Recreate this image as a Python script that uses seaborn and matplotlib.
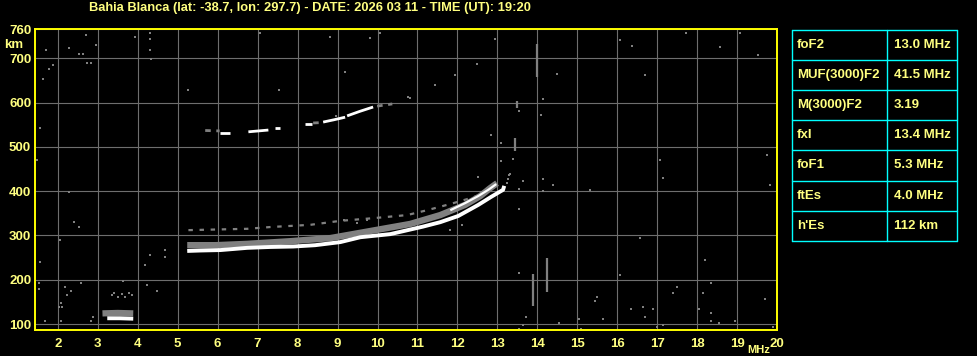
import matplotlib
matplotlib.use("Agg")
import matplotlib.pyplot as plt
import numpy as np
import pandas as pd
import seaborn as sns

# ---------------- data ----------------
title = "Bahia Blanca (lat: -38.7, lon: 297.7) - DATE: 2026 03 11 - TIME (UT): 19:20"
freq_ticks = list(range(2, 21))
height_ticks = [100, 200, 300, 400, 500, 600, 700, 765.5]
height_labels = ["100", "200", "300", "400", "500", "600", "700", "760"]

# F-layer main trace (white)
f_trace_f = [5.24, 5.57, 6.07, 6.74, 7.32, 7.89, 8.44, 9.07, 9.57, 10.32, 11.14, 11.57, 12.02, 12.52, 12.84, 13.14, 13.17]
f_trace_h = [265, 266, 267, 272, 274, 275, 278, 285, 296, 303, 320, 330, 344, 369, 387, 403, 412]
# second white branch near the cusp
x_trace_f = [11.82, 12.19, 12.52, 12.77, 12.97]
x_trace_h = [357, 373, 389, 403, 416]
# grey spread band above the main trace
band_f = [5.24, 5.95, 6.74, 7.82, 8.82, 9.82, 10.82, 11.57, 12.19, 12.57, 12.82, 12.99]
band_h = [278, 278, 281, 287, 294, 310, 326, 346, 369, 389, 407, 418]
# weak dashed grey echo above
weak_f = [5.27, 6.74, 7.32, 8.32, 9.07, 9.89, 10.74, 11.24, 11.82, 12.24, 12.74]
weak_h = [312, 315, 319, 324, 333, 339, 346, 357, 371, 382, 396]
# second-hop trace (white segments)
hop_seg = [1, 1, 2, 2, 3, 3, 4, 4, 5, 5, 5, 6, 6, 6]
hop_f = [6.07, 6.32, 6.77, 7.27, 7.44, 7.57, 8.19, 8.37, 8.64, 8.9, 9.19, 9.24, 9.55, 9.89]
hop_h = [531, 531, 534, 538, 543, 543, 552, 552, 556, 561, 567, 570, 580, 590]
hop_grey_seg = [1, 1, 2, 2, 3, 3]
hop_grey_f = [5.69, 6.05, 8.39, 8.64, 9.99, 10.37]
hop_grey_h = [537, 536, 554, 555, 592, 597]
# sporadic E trace
es_f = [3.24, 3.55, 3.89]
es_h = [113, 113, 112]
es_grey_f = [3.12, 3.5, 3.89]
es_grey_h = [124, 125, 124]
# vertical streaks
streak_f = [13.99, 13.89, 14.24, 13.49, 13.44]
streak_h0 = [658, 141, 172, 588, 491]
streak_h1 = [732, 213, 249, 604, 520]
# dotted column near the top at 4.3 MHz
col_f = [4.32, 4.32, 4.32, 4.34]
col_h = [757, 744, 719, 698]
# isolated grey returns
noise_f = [1.72, 2.29, 2.54, 2.64, 2.72, 2.97, 3.94, 1.79, 1.89, 1.64, 2.74, 2.84, 1.54, 1.54,
           1.69, 2.09, 2.04, 2.12, 2.09, 2.19, 2.34, 2.24, 2.59, 2.84, 2.89, 3.64, 4.24, 4.49,
           12.94, 12.49, 13.72, 13.64, 13.54, 14.54, 15.04, 15.09, 15.44, 15.49, 15.64, 16.34,
           16.64, 16.69, 16.89, 16.99, 17.14, 17.39, 17.49, 18.04, 18.14, 18.34, 18.34, 18.34,
           18.54, 18.94, 19.69, 19.89, 14.49, 14.14, 14.09, 13.54, 13.09, 13.09, 13.39, 13.29,
           13.27, 13.24, 13.64, 13.54, 14.14, 14.14, 14.39, 13.54, 13.54, 12.84, 9.17, 9.49,
           9.74, 11.82, 12.12, 12.52, 13.32, 16.07, 16.37, 17.72, 18.57, 19.07, 19.52, 16.69,
           17.07, 17.14, 19.82, 19.74, 16.57, 15.32, 16.07, 18.19, 1.57, 1.49, 2.29, 2.42,
           2.54, 2.07, 1.57, 4.32, 4.69, 4.69, 4.19, 5.27, 7.07, 7.54, 8.82, 9.19, 9.82, 10.82,
           11.44, 11.94, 10.07, 3.35, 3.42, 3.52, 3.6, 3.68, 3.78, 3.85, 10.77, 8.95]
noise_h = [719, 723, 710, 710, 753, 730, 748, 676, 685, 653, 689, 689, 193, 179,
           107, 107, 138, 138, 147, 184, 175, 165, 193, 107, 116, 197, 188, 175,
           744, 687, 116, 98, 89, 102, 111, 89, 152, 161, 111, 134,
           138, 116, 134, 93, 98, 170, 184, 134, 170, 193, 125, 107,
           102, 107, 156, 93, 665, 608, 572, 581, 509, 468, 473, 437,
           427, 418, 423, 405, 427, 400, 414, 360, 215, 527, 335, 328,
           335, 312, 324, 432, 439, 741, 728, 757, 726, 757, 707, 662,
           470, 430, 414, 482, 294, 403, 211, 245, 543, 470, 398, 330,
           319, 290, 240, 256, 267, 251, 233, 628, 757, 628, 748, 669, 746, 610,
           640, 662, 757, 165, 170, 160, 168, 162, 170, 165, 613, 570]

table_names = ["foF2", "MUF(3000)F2", "M(3000)F2", "fxI", "foF1", "ftEs", "h'Es"]
table_values = ["13.0 MHz", "41.5 MHz", "3.19", "13.4 MHz", "5.3 MHz", "4.0 MHz", "112 km"]

# ---------------- style ----------------
sns.set_theme(style="dark")
plt.rcParams["font.family"] = ["Liberation Sans", "DejaVu Sans"]
TXT = "#ffff80"
GRID = "#6e6e6e"
GREY = "#808080"

W, H = 978, 356
fig = plt.figure(figsize=(W / 100, H / 100), dpi=100, facecolor="black")
ax = fig.add_axes([35.3 / W, 1 - 330 / H, (777.3 - 35.3) / W, (330 - 29.3) / H])
ax.set_facecolor("black")

# ---------------- marks ----------------
sns.lineplot(x=band_f, y=band_h, sort=False, estimator=None, color=GREY, lw=4.6, ax=ax,
             solid_capstyle="butt")
sns.lineplot(x=weak_f, y=weak_h, sort=False, estimator=None, color=GREY, lw=1.6, ax=ax,
             linestyle=(0, (2, 3)))
sns.lineplot(x=f_trace_f, y=f_trace_h, sort=False, estimator=None, color="white", lw=2.8, ax=ax,
             solid_capstyle="butt")
sns.lineplot(x=x_trace_f, y=x_trace_h, sort=False, estimator=None, color="white", lw=1.6, ax=ax,
             solid_capstyle="butt")

hop = pd.DataFrame({"f": hop_f, "h": hop_h, "seg": hop_seg})
sns.lineplot(data=hop, x="f", y="h", units="seg", estimator=None, sort=False,
             color="white", lw=2.0, ax=ax, solid_capstyle="butt")
hopg = pd.DataFrame({"f": hop_grey_f, "h": hop_grey_h, "seg": hop_grey_seg})
sns.lineplot(data=hopg, x="f", y="h", units="seg", estimator=None, sort=False,
             color=GREY, lw=2.0, ax=ax, linestyle=(0, (2, 2)))

sns.lineplot(x=es_grey_f, y=es_grey_h, sort=False, estimator=None, color=GREY, lw=4.5, ax=ax,
             solid_capstyle="butt")
sns.lineplot(x=es_f, y=es_h, sort=False, estimator=None, color="white", lw=2.8, ax=ax,
             solid_capstyle="butt")

ax.vlines(streak_f, streak_h0, streak_h1, color=GREY, lw=1.6)
sns.scatterplot(x=col_f, y=col_h, marker="s", s=3.5, color=GREY, linewidth=0, ax=ax)
sns.scatterplot(x=noise_f, y=noise_h, marker="s", s=2.2, color=GREY, linewidth=0, ax=ax)

# ---------------- axes ----------------
ax.set_xlim(1.44, 20)
ax.set_ylim(86.5, 765.5)
ax.set_xticks(freq_ticks)
ax.set_xticklabels([str(v) for v in freq_ticks])
ax.set_yticks(height_ticks)
ax.set_yticklabels(height_labels)
ax.grid(True, color=GRID, lw=0.8)
ax.set_axisbelow(True)
ax.tick_params(axis="both", length=0, colors=TXT, labelsize=9.5)
ax.tick_params(axis="x", pad=6)
ax.tick_params(axis="y", pad=3)
for lab in ax.get_xticklabels() + ax.get_yticklabels():
    lab.set_fontweight("bold")
for sp in ax.spines.values():
    sp.set_color("#ffff00")
    sp.set_linewidth(1.4)
    sp.set_visible(True)
ax.set_xlabel("")
ax.set_ylabel("")

fig.text(310 / W, 1 - 8 / H, title, ha="center", va="center", color=TXT,
         fontsize=9.3, fontweight="bold")
fig.text(13.5 / W, 1 - 45 / H, "km", ha="center", va="center", color=TXT,
         fontsize=9.5, fontweight="bold")
fig.text(759 / W, 1 - 350 / H, "MHz", ha="center", va="center", color=TXT,
         fontsize=8.0, fontweight="bold")

# ---------------- parameter table ----------------
tx0, tx1, ty0, row_h = 792, 957, 30, 30.1
tab = fig.add_axes([tx0 / W, 1 - (ty0 + row_h * 7) / H, (tx1 - tx0) / W, row_h * 7 / H])
tab.set_xlim(0, tx1 - tx0)
tab.set_ylim(row_h * 7, 0)
tab.axis("off")
CY = "#00ffff"
for i in range(8):
    tab.axhline(i * row_h, color=CY, lw=1.0, clip_on=False)
for xv in [0, 887 - tx0, tx1 - tx0]:
    tab.axvline(xv, color=CY, lw=1.0, clip_on=False)
for i, (n, v) in enumerate(zip(table_names, table_values)):
    yc = (i + 0.5) * row_h
    tab.text(5, yc, n, ha="left", va="center", color=TXT, fontsize=9.5, fontweight="bold")
    tab.text(893 - tx0 + 1, yc, v, ha="left", va="center", color=TXT, fontsize=9.5,
             fontweight="bold")

fig.savefig("out.png", dpi=100, facecolor="black")
